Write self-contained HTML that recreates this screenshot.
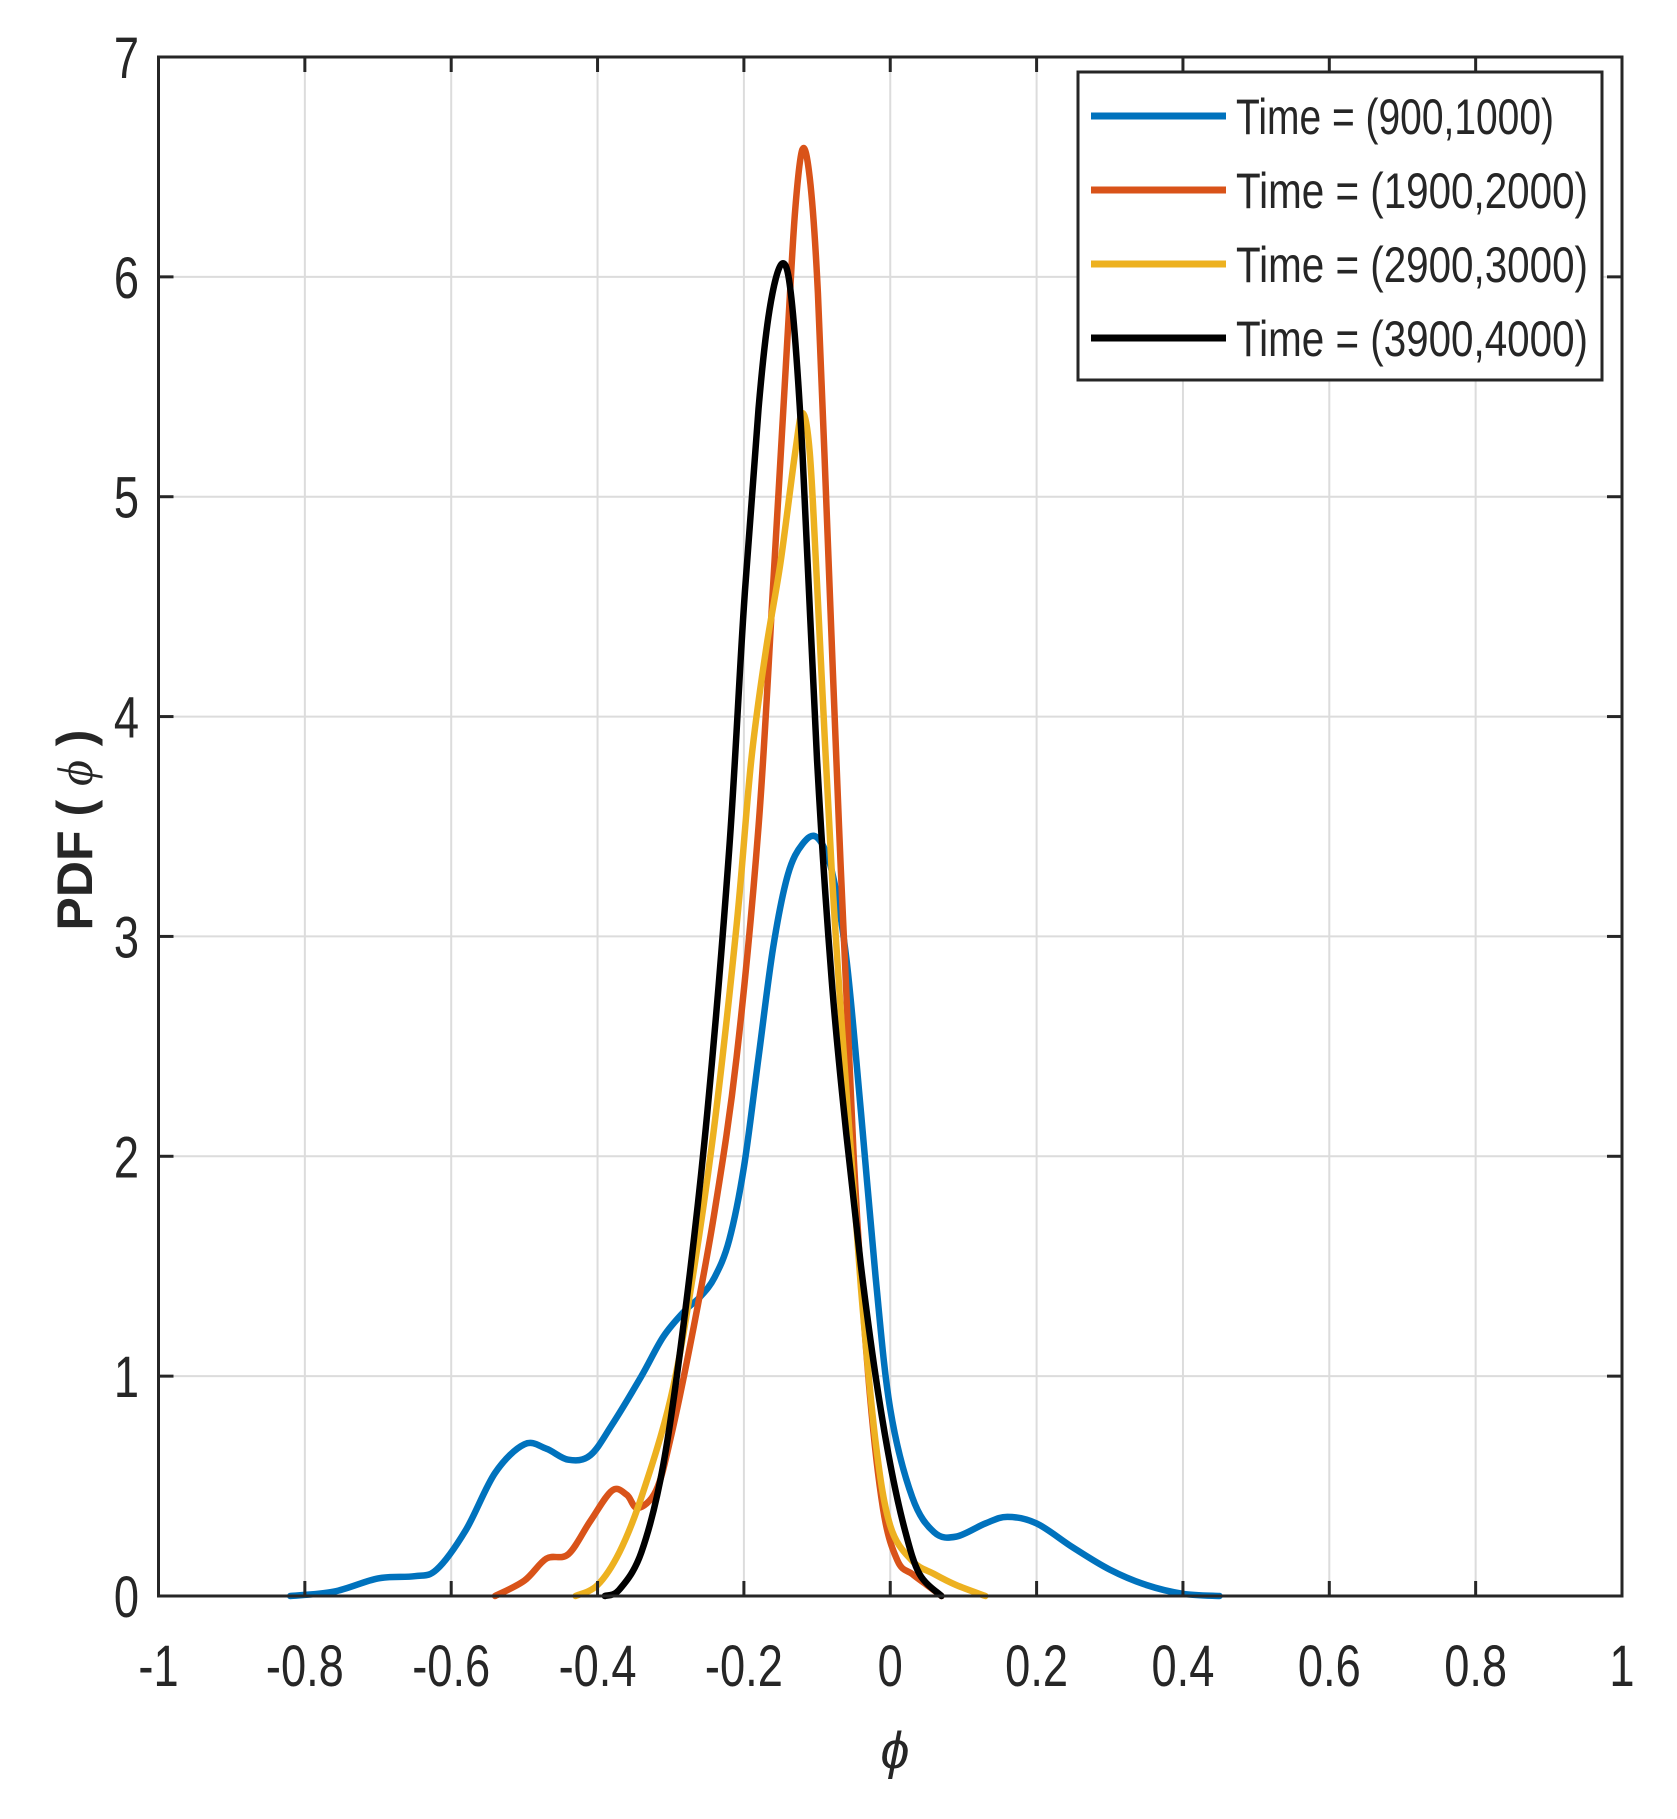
<!DOCTYPE html>
<html><head><meta charset="utf-8"><style>
html,body{margin:0;padding:0;background:#fff;}
svg{display:block;}
text{font-family:"Liberation Sans",sans-serif;fill:#262626;}
</style></head><body>
<svg id="s" width="1677" height="1819" viewBox="0 0 1677 1819" xmlns="http://www.w3.org/2000/svg">
<rect width="1677" height="1819" fill="#fff"/>
<g id="grid" stroke="#dcdcdc" stroke-width="2"></g>
<g id="curves" fill="none" stroke-width="6.5" stroke-linejoin="round" stroke-linecap="round"></g>
<g id="axes" stroke="#262626" stroke-width="3" fill="none"></g>
<g id="labels" font-size="58"></g>
<text transform="translate(92,830) rotate(-90)" text-anchor="middle" font-size="50" font-weight="bold">PDF ( <tspan font-style="italic" font-weight="normal" font-family="Liberation Serif">ϕ</tspan> )</text>
<text x="895" y="1768" text-anchor="middle" font-size="52" font-style="italic" font-family="Liberation Serif">ϕ</text>
<rect x="1078" y="72" width="524" height="308" fill="#fff" stroke="#262626" stroke-width="3"/>
<g id="legend"></g>
</svg>
<script>
const L=158.5,R=1622,T=57,B=1596;
const X=v=>L+(v+1)*(R-L)/2, Y=p=>B-p*(B-T)/7;
const ns="http://www.w3.org/2000/svg";
function el(g,tag,attrs,txt){const e=document.createElementNS(ns,tag);for(const k in attrs)e.setAttribute(k,attrs[k]);if(txt!==undefined)e.textContent=txt;document.getElementById(g).appendChild(e);return e;}
for(let i=-4;i<=4;i++){const x=X(i*0.2);el('grid','line',{x1:x,x2:x,y1:T,y2:B});}
for(let j=1;j<=6;j++){const y=Y(j);el('grid','line',{x1:L,x2:R,y1:y,y2:y});}
el('axes','rect',{x:L,y:T,width:R-L,height:B-T});
for(let i=-5;i<=5;i++){const x=X(i*0.2);el('axes','line',{x1:x,x2:x,y1:B,y2:B-15});el('axes','line',{x1:x,x2:x,y1:T,y2:T+15});
 let s=(Math.round(i*2)/10).toString(); if(i==-5)s='-1'; if(i==5)s='1'; if(i==0)s='0';
 el('labels','text',{x:0,y:0,'text-anchor':'middle',transform:`translate(${x},1686) scale(0.78,1)`},s);}
for(let j=0;j<=7;j++){const y=Y(j);el('axes','line',{x1:L,x2:L+15,y1:y,y2:y});el('axes','line',{x1:R,x2:R-15,y1:y,y2:y});
 el('labels','text',{x:0,y:0,'text-anchor':'end',transform:`translate(139,${y+21}) scale(0.78,1)`},String(j));}
const data={
'#0072BD':[[-0.82,0],[-0.76,0.02],[-0.7,0.08],[-0.65,0.09],[-0.62,0.12],[-0.58,0.3],[-0.54,0.56],[-0.5,0.69],[-0.47,0.67],[-0.44,0.62],[-0.41,0.64],[-0.38,0.78],[-0.34,1.0],[-0.31,1.18],[-0.28,1.3],[-0.26,1.36],[-0.24,1.45],[-0.22,1.62],[-0.2,1.95],[-0.18,2.45],[-0.16,2.95],[-0.14,3.28],[-0.12,3.42],[-0.1,3.45],[-0.08,3.3],[-0.06,2.9],[-0.04,2.2],[-0.02,1.45],[0,0.85],[0.03,0.45],[0.06,0.29],[0.09,0.27],[0.13,0.33],[0.16,0.36],[0.2,0.33],[0.25,0.22],[0.3,0.12],[0.35,0.05],[0.4,0.01],[0.45,0]],
'#D95319':[[-0.54,0],[-0.5,0.07],[-0.47,0.17],[-0.44,0.19],[-0.41,0.34],[-0.38,0.48],[-0.36,0.46],[-0.345,0.4],[-0.32,0.48],[-0.3,0.72],[-0.27,1.2],[-0.24,1.75],[-0.21,2.45],[-0.18,3.5],[-0.16,4.6],[-0.14,5.75],[-0.13,6.3],[-0.12,6.58],[-0.11,6.45],[-0.1,6.0],[-0.09,5.2],[-0.07,3.5],[-0.05,2.0],[-0.03,1.0],[-0.01,0.4],[0.01,0.16],[0.03,0.1],[0.05,0.05],[0.07,0]],
'#EDB120':[[-0.43,0],[-0.4,0.05],[-0.37,0.2],[-0.34,0.45],[-0.3,0.9],[-0.27,1.45],[-0.24,2.15],[-0.21,3.05],[-0.19,3.8],[-0.17,4.3],[-0.15,4.7],[-0.13,5.2],[-0.12,5.38],[-0.11,5.2],[-0.1,4.6],[-0.08,3.3],[-0.06,2.3],[-0.04,1.4],[-0.02,0.7],[0,0.32],[0.03,0.16],[0.06,0.1],[0.09,0.05],[0.13,0]],
'#000000':[[-0.39,0],[-0.37,0.03],[-0.34,0.2],[-0.31,0.6],[-0.28,1.3],[-0.25,2.2],[-0.22,3.4],[-0.2,4.5],[-0.18,5.4],[-0.165,5.85],[-0.148,6.06],[-0.135,5.9],[-0.12,5.2],[-0.1,3.8],[-0.08,2.8],[-0.06,2.1],[-0.04,1.5],[-0.02,1.0],[0,0.6],[0.02,0.3],[0.04,0.1],[0.07,0]]};
for(const c in data){const p=data[c].map(d=>[X(d[0]),Y(d[1])]);let s=`M${p[0][0]},${p[0][1]}`;
 for(let i=0;i<p.length-1;i++){const p0=p[Math.max(0,i-1)],p1=p[i],p2=p[i+1],p3=p[Math.min(p.length-1,i+2)];
  s+=` C${p1[0]+(p2[0]-p0[0])/6},${p1[1]+(p2[1]-p0[1])/6} ${p2[0]-(p3[0]-p1[0])/6},${p2[1]-(p3[1]-p1[1])/6} ${p2[0]},${p2[1]}`;}
 el('curves','path',{d:s,stroke:c});}
const leg=[['#0072BD','Time = (900,1000)',318],['#D95319','Time = (1900,2000)',352],['#EDB120','Time = (2900,3000)',352],['#000000','Time = (3900,4000)',352]];
leg.forEach((l,i)=>{const y=116+i*74;el('legend','line',{x1:1091,x2:1226,y1:y,y2:y,stroke:l[0],'stroke-width':7});
 el('legend','text',{x:1236,y:y+18,'font-size':50,textLength:l[2],lengthAdjust:'spacingAndGlyphs'},l[1]);});
</script>
</body></html>
